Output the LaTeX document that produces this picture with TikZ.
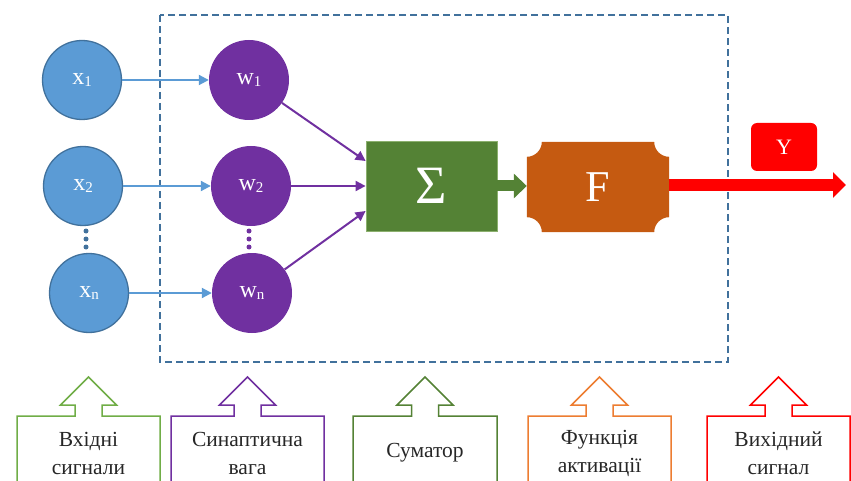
\documentclass[tikz,border=0pt]{standalone}
\usepackage{fontspec}
\setmainfont{Liberation Serif}
\usetikzlibrary{arrows.meta,backgrounds,calc}
\definecolor{xblue}{HTML}{5B9BD5}
\definecolor{xedge}{HTML}{41719C}
\definecolor{wpurp}{HTML}{7030A0}
\definecolor{sgreen}{HTML}{548235}
\definecolor{sedge}{HTML}{8CB06E}
\definecolor{lgreen}{HTML}{70AD47}
\definecolor{forange}{HTML}{C55A11}
\definecolor{corange}{HTML}{ED7D31}
\definecolor{txtgray}{HTML}{262626}
\newcommand{\mysub}[1]{\raisebox{-2pt}{\fontsize{15}{15}\selectfont #1}}
\newcommand{\mycallout}[4]{\draw[#1, callout] (#2,490) -- (#2,416) -- ({#4-13.5},416) -- ({#4-13.5},405) -- ({#4-28},405) -- (#4,377) -- ({#4+28},405) -- ({#4+13.5},405) -- ({#4+13.5},416) -- (#3,416) -- (#3,490);}
\begin{document}
\begin{tikzpicture}[x=1pt,y=-1pt,
 xnode/.style={circle, fill=xblue, draw=xedge, line width=1.3pt, minimum size=79pt, inner sep=0pt, text=white, font=\fontsize{24}{24}\selectfont},
 wnode/.style={circle, fill=wpurp, minimum size=80pt, inner sep=0pt, text=white, font=\fontsize{24}{24}\selectfont},
 blueconn/.style={draw=xblue, line width=2pt, -{Triangle[length=10pt,width=10pt]}},
 purpconn/.style={draw=wpurp, line width=2pt, -{Triangle[length=10pt,width=10pt]}},
 callout/.style={line width=1.5pt, line join=miter},
 lbl/.style={align=center, text=txtgray, font=\fontsize{21.5}{28}\selectfont, inner sep=0pt}
]
\useasboundingbox (0,0) rectangle (851,481);

% dashed frame
\draw[xedge, line width=1.3pt, dash pattern=on 7pt off 4pt] (160,15) rectangle (728,362);

% input nodes
\node[xnode] (x1) at (82,80) {x\mysub{1}};
\node[xnode] (x2) at (83,186) {x\mysub{2}};
\node[xnode] (xn) at (89,293) {x\mysub{n}};
% weights
\node[wnode] (w1) at (249,80) {w\mysub{1}};
\node[wnode] (w2) at (251,186) {w\mysub{2}};
\node[wnode] (wn) at (252,293) {w\mysub{n}};

\foreach \yy in {231,239,247} {
  \fill[xedge] (86,\yy) circle[radius=2.5pt];
  \fill[wpurp] (249,\yy) circle[radius=2.5pt];
}

% summator and activation
\node[fill=sgreen, draw=sedge, line width=0.8pt, minimum width=131pt, minimum height=90pt, text=white, font=\fontsize{54}{54}\selectfont] (S) at (431.5,186) {Σ};
\node[minimum width=142pt, minimum height=90pt, text=white, font=\fontsize{44}{44}\selectfont] (F) at (598,187) {F};
\begin{scope}[on background layer]
\fill[forange] ([xshift=15pt]F.north west) -- ([xshift=-15pt]F.north east) arc[start angle=180,end angle=270,radius=15pt] -- ([yshift=15pt]F.south east) arc[start angle=90,end angle=180,radius=15pt] -- ([xshift=15pt]F.south west) arc[start angle=0,end angle=90,radius=15pt] -- ([yshift=-15pt]F.north west) arc[start angle=270,end angle=360,radius=15pt] -- cycle;
\end{scope}

\node[fill=red, rounded corners=6pt, minimum width=66pt, minimum height=48pt, text=white, font=\fontsize{22}{22}\selectfont] (Y) at (784,147) {Y};

% connectors
\draw[blueconn] (x1) -- (w1);
\draw[blueconn] (x2) -- (w2);
\draw[blueconn] (xn) -- (wn);
\draw[purpconn] (w1) -- ([yshift=25pt]S.west);
\draw[purpconn] (w2) -- (S.west);
\draw[purpconn] (wn) -- ([yshift=-25pt]S.west);
\draw[sgreen, line width=11pt, -{Triangle[length=13pt,width=24pt]}] (S.east) -- (S.east -| F.west);
\coordinate (out) at (846,185);
\draw[red, line width=12pt, -{Triangle[length=13pt,width=25pt]}] (F.east |- out) -- (out);

% bottom callouts
\mycallout{lgreen}{17}{160}{88.5}
\mycallout{wpurp}{171}{324}{247.5}
\mycallout{sgreen}{353}{497}{425}
\mycallout{corange}{528}{671}{599.5}
\mycallout{red}{707}{850}{778.5}

\node[lbl] (t1) at (88.5,453) {Вхідні\\сигнали};
\node[lbl] (t2) at (247.5,453) {Синаптична\\вага};
\node[lbl] (t3) at (425,453) {Суматор};
\node[lbl] (t4) at (599.5,453) {Функція\\активації};
\node[lbl] (t5) at (778.5,453) {Вихідний\\сигнал};
\end{tikzpicture}
\end{document}
